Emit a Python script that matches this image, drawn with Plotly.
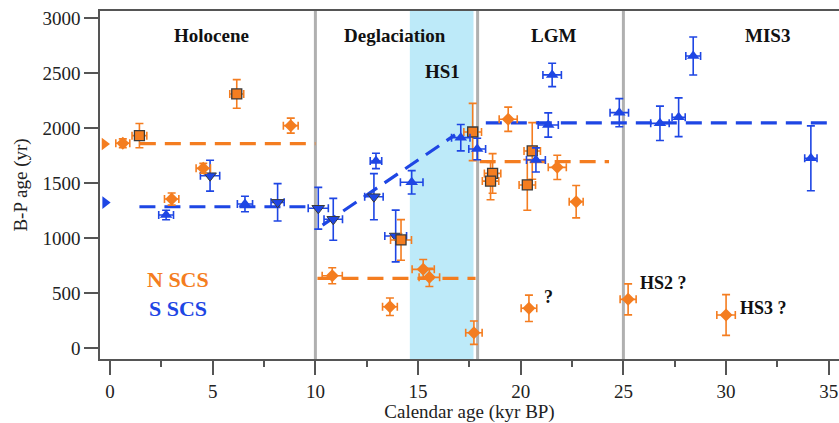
import plotly.graph_objects as go

ORANGE = "#F47D20"
BLUE = "#1E46E4"
DARK = "#3A3A3A"

# ---------- data ----------
# N SCS (orange) diamonds: calendar age (kyr BP), B-P age (yr), errors
on_dia_x = [0.62, 3.0, 4.54, 8.80, 10.82, 13.63, 15.25, 15.55, 17.72, 19.39, 20.4, 21.78, 22.7, 25.23, 30.0]
on_dia_y = [1864, 1357, 1636, 2024, 660, 378, 718, 645, 142, 2082, 364, 1645, 1333, 445, 303]
on_dia_xe = [0.34, 0.35, 0.35, 0.36, 0.49, 0.36, 0.54, 0.5, 0.4, 0.44, 0.38, 0.44, 0.34, 0.39, 0.45]
on_dia_ye = [40, 55, 45, 68, 73, 80, 90, 83, 106, 110, 120, 110, 147, 141, 185]

# N SCS (orange) squares
on_sq_x = [1.43, 6.17, 14.17, 17.66, 18.63, 18.53, 20.56, 20.32]
on_sq_y = [1933, 2312, 985, 1966, 1590, 1520, 1794, 1485]
on_sq_xe = [0.36, 0.34, 0.51, 0.43, 0.4, 0.4, 0.4, 0.4]
on_sq_ye = [110, 130, 185, 260, 180, 170, 257, 230]

# S SCS (blue) up-triangles
bs_up_x = [2.73, 6.57, 12.95, 14.69, 17.08, 17.88, 21.53, 21.34, 20.74, 24.8, 26.78, 27.69, 28.4, 34.13]
bs_up_y = [1212, 1312, 1703, 1509, 1915, 1812, 2485, 2030, 1712, 2142, 2045, 2100, 2657, 1727]
bs_up_xe = [0.36, 0.37, 0.28, 0.55, 0.45, 0.41, 0.45, 0.49, 0.46, 0.45, 0.45, 0.32, 0.36, 0.3]
bs_up_ye = [43, 70, 70, 106, 120, 98, 106, 110, 110, 128, 156, 176, 173, 295]

# S SCS (blue) down-triangles
bs_dn_x = [4.87, 8.16, 10.14, 10.87, 12.85, 13.91]
bs_dn_y = [1569, 1327, 1273, 1173, 1378, 1021]
bs_dn_xe = [0.47, 0.32, 0.49, 0.45, 0.45, 0.53]
bs_dn_ye = [140, 170, 190, 190, 210, 235]

# modern values marked on the y axis
axis_mark_x = [-0.27, -0.24]
axis_mark_y = [1857, 1325]

# mean / trend lines (x pairs, y pairs)
orange_holo_x, orange_holo_y = [1.45, 10.0], [1860, 1860]
orange_degl_x, orange_degl_y = [10.1, 17.8], [636, 636]
orange_lgm_x, orange_lgm_y = [18.0, 24.3], [1697, 1697]
blue_holo_x, blue_holo_y = [1.43, 10.0], [1287, 1287]
blue_degl_x, blue_degl_y = [10.35, 16.8], [1120, 1940]
blue_lgm_x, blue_lgm_y = [18.3, 34.95], [2050, 2050]

# period boundaries and HS1 band
boundaries = [10.0, 17.9, 25.0]
hs1_band = [14.6, 17.7]

period_labels = ["Holocene", "Deglaciation", "HS1", "LGM", "MIS3"]
period_x = [4.95, 13.9, 16.2, 21.6, 32.0]
period_y = [2839, 2839, 2515, 2839, 2839]

fig = go.Figure()

LINE_DASH = "16px,9px"
for xs, ys, c in [(orange_holo_x, orange_holo_y, ORANGE), (orange_degl_x, orange_degl_y, ORANGE),
                  (orange_lgm_x, orange_lgm_y, ORANGE), (blue_holo_x, blue_holo_y, BLUE),
                  (blue_degl_x, blue_degl_y, BLUE), (blue_lgm_x, blue_lgm_y, BLUE)]:
    fig.add_trace(go.Scatter(x=xs, y=ys, mode="lines",
                             line=dict(color=c, width=3.2, dash=LINE_DASH),
                             hoverinfo="skip"))


def err(arr, c):
    return dict(type="data", array=arr, visible=True, color=c, thickness=1.6, width=4)


fig.add_trace(go.Scatter(x=bs_dn_x, y=bs_dn_y, mode="markers",
                         marker=dict(symbol="triangle-down", size=11, color=BLUE,
                                     line=dict(color=DARK, width=1)),
                         error_x=err(bs_dn_xe, BLUE), error_y=err(bs_dn_ye, BLUE)))
fig.add_trace(go.Scatter(x=on_dia_x, y=on_dia_y, mode="markers",
                         marker=dict(symbol="diamond", size=10, color=ORANGE,
                                     line=dict(color=ORANGE, width=0)),
                         error_x=err(on_dia_xe, ORANGE), error_y=err(on_dia_ye, ORANGE)))
fig.add_trace(go.Scatter(x=on_sq_x, y=on_sq_y, mode="markers",
                         marker=dict(symbol="square", size=10, color=ORANGE,
                                     line=dict(color=DARK, width=1.3)),
                         error_x=err(on_sq_xe, ORANGE), error_y=err(on_sq_ye, ORANGE)))
fig.add_trace(go.Scatter(x=bs_up_x, y=bs_up_y, mode="markers",
                         marker=dict(symbol="triangle-up", size=11, color=BLUE,
                                     line=dict(color=BLUE, width=0)),
                         error_x=err(bs_up_xe, BLUE), error_y=err(bs_up_ye, BLUE)))
fig.add_trace(go.Scatter(x=axis_mark_x, y=axis_mark_y, mode="markers", cliponaxis=False,
                         marker=dict(symbol="triangle-right", size=11, color=[ORANGE, BLUE],
                                     line=dict(width=0))))

shapes = [dict(type="rect", xref="x", yref="paper", x0=hs1_band[0], x1=hs1_band[1], y0=0, y1=1,
               fillcolor="#BDEAF9", line=dict(width=0), layer="below")]
for b in boundaries:
    shapes.append(dict(type="line", xref="x", yref="paper", x0=b, x1=b, y0=0, y1=1,
                       line=dict(color="#B0B0B0", width=3), layer="below"))

annotations = []
for t, x, y in zip(period_labels, period_x, period_y):
    annotations.append(dict(x=x, y=y, text=f"<b>{t}</b>", showarrow=False,
                            font=dict(family="Liberation Serif", size=19, color="#111"),
                            xanchor="center", yanchor="middle"))
for t, x, y in [("HS2 ?", 25.7, 591), ("HS3 ?", 30.6, 364), ("?", 21.05, 469)]:
    annotations.append(dict(x=x, y=y, text=f"<b>{t}</b>", showarrow=False,
                            font=dict(family="Liberation Serif", size=18, color="#111"),
                            xanchor="left", yanchor="middle"))
annotations.append(dict(x=3.3, y=627, text="<b>N SCS</b>", showarrow=False,
                        font=dict(family="Liberation Serif", size=22, color=ORANGE),
                        xanchor="center", yanchor="middle"))
annotations.append(dict(x=3.3, y=363, text="<b>S SCS</b>", showarrow=False,
                        font=dict(family="Liberation Serif", size=22, color=BLUE),
                        xanchor="center", yanchor="middle"))

fig.update_layout(
    width=839, height=423,
    margin=dict(l=100, r=0, t=11, b=64),
    paper_bgcolor="white", plot_bgcolor="white",
    showlegend=False,
    shapes=shapes, annotations=annotations,
    font=dict(family="Liberation Serif", size=19, color="#222"),
)
fig.update_xaxes(range=[-0.49, 35.5], tick0=0, dtick=5, ticks="outside", ticklen=14, tickwidth=1.5,
                 tickcolor="#555", showline=True, linecolor="#555", linewidth=1.5, mirror=True,
                 showgrid=False, zeroline=False,
                 minor=dict(dtick=2.5, tick0=0, ticks="outside", ticklen=6, tickwidth=1.5, tickcolor="#555"),
                 title=dict(text="Calendar age (kyr BP)", standoff=4,
                            font=dict(family="Liberation Serif", size=19)),
                 tickfont=dict(family="Liberation Serif", size=19))
fig.update_yaxes(range=[-97, 3066], tickvals=[0, 500, 1000, 1500, 2000, 2500, 3000], ticks="outside",
                 ticklen=14, tickwidth=1.5, tickcolor="#555", showline=True, linecolor="#555",
                 linewidth=1.5, showgrid=False, zeroline=False,
                 title=dict(text="B-P age (yr)", standoff=10,
                            font=dict(family="Liberation Serif", size=19)),
                 tickfont=dict(family="Liberation Serif", size=19))

fig.write_html("out.html", config={"displayModeBar": False},
               post_script="document.body.style.margin='0';document.body.style.padding='0';"
                           "document.documentElement.style.overflow='hidden';")
